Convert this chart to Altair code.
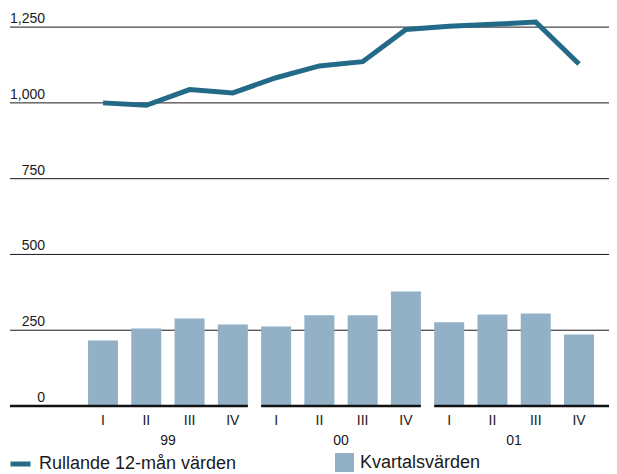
import altair as alt
import pandas as pd

# ---- data ----
years = ["99", "99", "99", "99", "00", "00", "00", "00", "01", "01", "01", "01"]
quarter_names = ["I", "II", "III", "IV"]
quarters = quarter_names * 3
bar_values = [216, 256, 289, 269, 262, 299, 299, 378, 276, 302, 305, 236]
line_values = [1000, 992, 1044, 1033, 1083, 1122, 1136, 1242, 1253, 1259, 1267, 1128]
y_ticks = [0, 250, 500, 750, 1000, 1250]
LINE_LABEL = "Rullande 12-mån värden"
BAR_LABEL = "Kvartalsvärden"

# ---- style ----
LINE_COLOR = "#226a88"
BAR_COLOR = "#92b1c7"
TEXT_COLOR = "#1a1a1a"
FONT = "Liberation Sans"

idx = list(range(len(bar_values)))
df = pd.DataFrame({
    "i": idx, "year": years, "q": quarters,
    "bar": bar_values, "line": line_values,
    "bar_s": BAR_LABEL, "line_s": LINE_LABEL,
})

PLOT_W = 599
STEP_PX = 43.27
X_MIN = -2.15
X_MAX = X_MIN + PLOT_W / STEP_PX
HALF = 15 / STEP_PX  # half bar width in index units

seg = df.groupby("year", sort=False)["i"].agg(["min", "max"]).reset_index()
seg["x1"] = seg["min"] - HALF
seg["x2"] = seg["max"] + HALF
seg.loc[0, "x1"] = X_MIN
seg.loc[len(seg) - 1, "x2"] = X_MAX
seg["mid"] = (seg["min"] + seg["max"]) / 2
seg["zero"] = 0

tick_df = pd.DataFrame({"v": y_ticks})
grid_df = tick_df[tick_df["v"] > 0]

xs = alt.Scale(domain=[X_MIN, X_MAX], nice=False, zero=False, padding=0)
ys = alt.Scale(domain=[0, 1313], nice=False, zero=False, padding=0)

grid = alt.Chart(grid_df).mark_rule(color="#1a1a1a", strokeWidth=1).encode(
    y=alt.Y("v:Q", scale=ys, axis=None),
)

y_labels = alt.Chart(tick_df).mark_text(
    align="right", baseline="alphabetic", dy=-4, fontSize=14, font=FONT, color=TEXT_COLOR
).encode(
    x=alt.value(35),
    y=alt.Y("v:Q", scale=ys, axis=None),
    text=alt.Text("v:Q", format=","),
)

bars = alt.Chart(df).mark_bar(size=30).encode(
    x=alt.X("i:Q", scale=xs, axis=None),
    y=alt.Y("bar:Q", scale=ys, axis=None),
    fill=alt.Fill("bar_s:N", scale=alt.Scale(domain=[BAR_LABEL], range=[BAR_COLOR]),
                  legend=alt.Legend(title=None, orient="none", legendX=325, legendY=445,
                                    symbolType="square", symbolSize=361, symbolStrokeWidth=0,
                                    labelFontSize=18, labelFont=FONT, labelColor=TEXT_COLOR,
                                    labelOffset=6, labelLimit=400, padding=0)),
)

baseline = alt.Chart(seg).mark_rule(color="#111111", strokeWidth=2.5).encode(
    x=alt.X("x1:Q", scale=xs, axis=None),
    x2="x2:Q",
    y=alt.Y("zero:Q", scale=ys, axis=None),
)

line = alt.Chart(df).mark_line(strokeWidth=5).encode(
    x=alt.X("i:Q", scale=xs, axis=None),
    y=alt.Y("line:Q", scale=ys, axis=None),
    stroke=alt.Stroke("line_s:N", scale=alt.Scale(domain=[LINE_LABEL], range=[LINE_COLOR]),
                      legend=alt.Legend(title=None, orient="none", legendX=-2, legendY=443.5,
                                        symbolType="stroke", symbolSize=400, symbolStrokeWidth=5,
                                        labelFontSize=18, labelFont=FONT, labelColor=TEXT_COLOR,
                                        labelOffset=6, labelLimit=400, padding=0)),
)

quarter_text = alt.Chart(df).mark_text(fontSize=14, font=FONT, color=TEXT_COLOR,
                                       baseline="alphabetic").encode(
    x=alt.X("i:Q", scale=xs, axis=None),
    y=alt.value(417),
    text="q:N",
)

year_text = alt.Chart(seg).mark_text(fontSize=14, font=FONT, color=TEXT_COLOR,
                                     baseline="alphabetic").encode(
    x=alt.X("mid:Q", scale=xs, axis=None),
    y=alt.value(437),
    text="year:N",
)

chart = alt.layer(grid, y_labels, bars, baseline, line, quarter_text, year_text).properties(
    width=PLOT_W, height=398,
    autosize=alt.AutoSizeParams(type="none"),
    padding={"left": 2, "top": 0, "right": 0, "bottom": 68},
).configure_view(stroke=None).resolve_scale(fill="independent", stroke="independent")

chart.save("out.html", embed_options={"renderer": "svg", "actions": False})
